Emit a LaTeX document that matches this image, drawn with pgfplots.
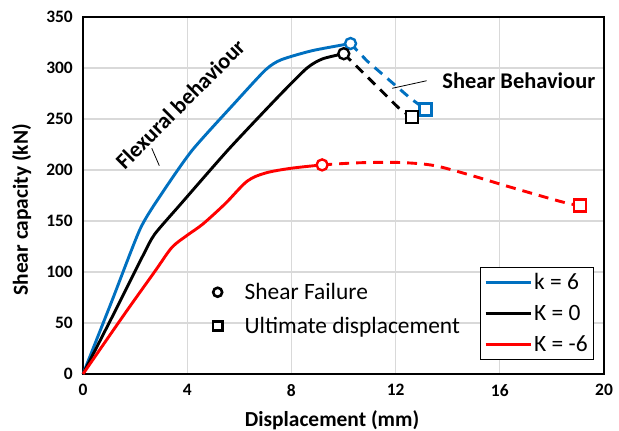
\documentclass[border=0pt]{standalone}
\usepackage{pgfplots}
\pgfplotsset{compat=1.18}
\usepackage{fontspec}
\setmainfont{Carlito}
\definecolor{kblue}{RGB}{0,112,192}
\definecolor{kred}{RGB}{255,0,0}
\definecolor{gridgray}{RGB}{217,217,217}
\begin{document}
\begin{tikzpicture}
\begin{axis}[
  at={(0,0)}, anchor=south west,
  scale only axis, width=521bp, height=357bp,
  xmin=0, xmax=20, ymin=0, ymax=350,
  xtick={0,4,8,12,16,20}, ytick={0,50,...,350},
  major tick length=0pt,
  grid=major,
  major grid style={draw=gridgray, line width=1.2bp},
  axis line style={line width=1.3bp, black},
  /pgf/number format/assume math mode=true,
  ticklabel style={font=\bfseries\fontsize{17.5}{17.5}\selectfont, inner sep=0pt},
  xticklabel style={anchor=north, yshift=-10bp},
  yticklabel style={anchor=east, xshift=-10bp},
  xlabel={Displacement (mm)},
  ylabel={Shear capacity (kN)},
  label style={font=\bfseries\fontsize{21.5}{21.5}\selectfont, inner sep=0pt},
  xlabel style={at={(axis description cs:0.478,-0.148)}, anchor=base},
  ylabel style={at={(axis description cs:-0.1056,0.46)}, anchor=base, rotate=0},
  clip=false,
  legend image code/.code={\draw[#1] (0bp,0bp) -- (45bp,0bp);},
  legend style={at={(rel axis cs:0.981,0.2997)}, anchor=north east, draw=black, line width=1bp,
    font=\fontsize{23.5}{23.5}\selectfont, inner xsep=4bp, inner ysep=4bp, row sep=10bp,
    cells={anchor=west}},
]
% solid curves
\addplot[kblue, line width=2.9bp, line join=round, smooth, tension=0.4] coordinates {
(0,0) (1.1,71) (2.19,142) (3.0,176) (4.18,219) (5.8,265) (7.0,298) (7.6,308) (8.8,317) (10.27,324)};
\addlegendentry{k = 6}
\addplot[black, line width=2.9bp, line join=round, smooth, tension=0.4] coordinates {
(0,0) (1.3,65) (2.3,116) (2.75,137) (3.73,166) (5.58,220) (7.5,272) (8.6,300) (9.2,309) (10.01,314)};
\addlegendentry{K = 0}
\addplot[kred, line width=2.9bp, line join=round, smooth, tension=0.5] coordinates {
(0,0) (1.6,59) (2.77,101) (3.41,124) (4.0,136) (4.6,147) (5.46,167) (6.3,189) (7.0,197) (7.96,201.6) (9.18,205)};
\addlegendentry{K = -6}
% dashed shear branches
\addplot[kblue, line width=2.9bp, dash pattern=on 10bp off 7bp, forget plot] coordinates {
(10.27,324) (10.9,307) (12.58,270) (13.15,259.5)};
\addplot[black, line width=2.9bp, dash pattern=on 10bp off 7bp, smooth, tension=0.4, forget plot] coordinates {
(10.01,314) (10.65,298) (11.54,275.5) (12.2,259) (12.64,252)};
\addplot[kred, line width=2.9bp, dash pattern=on 10bp off 7bp, smooth, tension=0.5, forget plot] coordinates {
(9.18,205) (10.5,207) (11.94,207.5) (13.0,206) (13.73,203) (15.0,194) (16.3,184) (18.35,169) (19.09,165)};
% failure markers
\addplot[only marks, mark=*, mark size=5.5bp, kblue, fill=white, line width=2.4bp, forget plot] coordinates {(10.27,324)};
\addplot[only marks, mark=*, mark size=5.5bp, black, fill=white, line width=2.4bp, forget plot] coordinates {(10.01,314)};
\addplot[only marks, mark=*, mark size=5.5bp, kred, fill=white, line width=2.4bp, forget plot] coordinates {(9.18,205)};
% ultimate markers
\addplot[only marks, mark=square*, mark size=6bp, kblue, fill=white, line width=2.4bp, forget plot] coordinates {(13.15,259.5)};
\addplot[only marks, mark=square*, mark size=6bp, black, fill=white, line width=2.4bp, forget plot] coordinates {(12.64,252)};
\addplot[only marks, mark=square*, mark size=6bp, kred, fill=white, line width=2.4bp, forget plot] coordinates {(19.09,165)};
% annotations
\node[font=\bfseries\fontsize{22.5}{22.5}\selectfont, rotate=45, inner sep=0pt] at (axis cs:3.73,264.7) {Flexural behaviour};
\draw[black, line width=0.8bp] (axis cs:2.64,221.3) -- (axis cs:2.93,204.2);
\node[font=\bfseries\fontsize{22.5}{22.5}\selectfont, inner sep=0pt] at (axis cs:16.73,288) {Shear Behaviour};
\draw[black, line width=0.8bp] (axis cs:13.19,287.5) -- (axis cs:11.87,280.1);
\end{axis}
\begin{axis}[
  at={(0,0)}, anchor=south west,
  scale only axis, width=521bp, height=357bp,
  xmin=0, xmax=20, ymin=0, ymax=350,
  hide axis,
  legend image code/.code={\path[draw=none] (0bp,0bp) -- (30bp,0bp); \draw[#1] plot[only marks] coordinates {(5bp,0bp)};},
  legend style={at={(axis cs:4.97,91)}, anchor=north west, draw=none, fill=none,
    inner xsep=0pt, inner ysep=0pt,
    font=\fontsize{23.5}{23.5}\selectfont, row sep=12bp, cells={anchor=west}},
]
\addlegendimage{only marks, mark=*, mark size=4.5bp, black, fill=white, line width=2.6bp}
\addlegendentry{Shear Failure}
\addlegendimage{only marks, mark=square*, mark size=4.7bp, black, fill=white, line width=2.6bp}
\addlegendentry{Ultimate displacement}
\end{axis}
\pgfresetboundingbox
\path (-83bp,-57bp) rectangle (536bp,374bp);
\end{tikzpicture}
\end{document}
